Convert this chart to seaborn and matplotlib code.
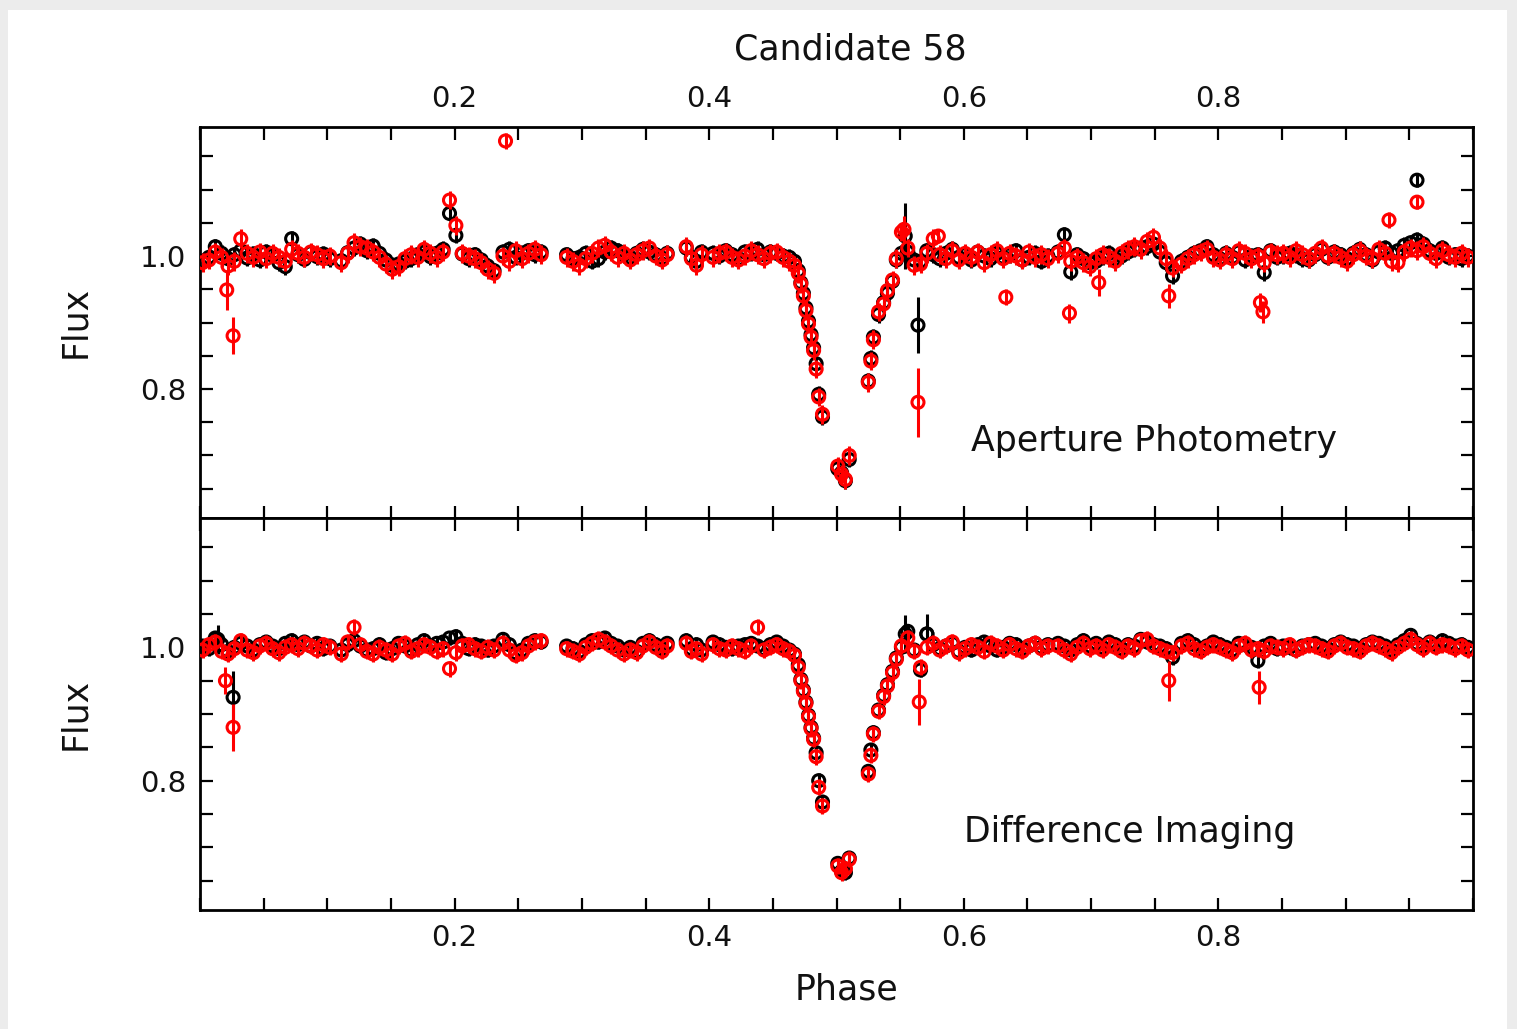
import matplotlib
matplotlib.use('Agg')
import numpy as np
import matplotlib.pyplot as plt
from matplotlib.patches import Rectangle
from matplotlib.ticker import FixedLocator, MultipleLocator
import seaborn as sns

sns.set_theme(style="ticks")
plt.rcParams['font.family'] = ['DejaVu Sans']

# Phase of every observation (shared by both methods and both colours)
PHASE = [
    0.002, 0.007, 0.012, 0.017, 0.022, 0.027, 0.032, 0.037, 0.042, 0.047,
    0.052, 0.057, 0.062, 0.067, 0.072, 0.077, 0.082, 0.087, 0.092, 0.097, 0.102,
    0.111, 0.116, 0.121, 0.126, 0.131, 0.136, 0.141, 0.146, 0.151, 0.156,
    0.161, 0.166, 0.171, 0.176, 0.181, 0.186, 0.191, 0.196, 0.201, 0.206,
    0.211, 0.216, 0.221, 0.226, 0.231,
    0.238, 0.243, 0.248, 0.253, 0.258, 0.263, 0.268,
    0.288, 0.293, 0.298, 0.303, 0.308, 0.313, 0.318, 0.323, 0.328, 0.333,
    0.338, 0.343, 0.348, 0.353, 0.358, 0.363, 0.367,
    0.382, 0.386, 0.390, 0.394, 0.403, 0.408, 0.413, 0.418, 0.423, 0.428,
    0.433, 0.438, 0.443, 0.448, 0.453, 0.458, 0.463, 0.467,
    0.470, 0.472, 0.474, 0.476, 0.478, 0.480, 0.482, 0.484, 0.486, 0.489,
    0.501, 0.504, 0.507, 0.510,
    0.525, 0.527, 0.529, 0.533, 0.537, 0.540, 0.544, 0.547,
    0.551, 0.556, 0.561, 0.566, 0.571, 0.576, 0.581, 0.586, 0.591, 0.596,
    0.601, 0.606, 0.611, 0.616, 0.621, 0.626, 0.631, 0.636, 0.641, 0.646,
    0.651, 0.656, 0.661, 0.666,
    0.674, 0.679, 0.684, 0.689, 0.694, 0.699, 0.704, 0.709, 0.714, 0.719,
    0.724, 0.729, 0.734, 0.739, 0.744, 0.749, 0.754, 0.759, 0.764,
    0.771, 0.776, 0.781, 0.786, 0.791, 0.796, 0.801, 0.806, 0.811, 0.816,
    0.821, 0.826, 0.831, 0.836, 0.841, 0.846, 0.851, 0.856, 0.861, 0.866,
    0.871, 0.876, 0.881, 0.886, 0.891, 0.896, 0.901, 0.906, 0.911, 0.916,
    0.921, 0.926, 0.931, 0.936, 0.941, 0.946, 0.951, 0.956, 0.961, 0.966,
    0.971, 0.976, 0.981, 0.986, 0.991, 0.996,
]

# Aperture photometry
AP_BLACK = [
    0.992, 0.998, 1.014, 1.004, 0.996, 1.002, 1.008, 0.997, 1.003, 0.994,
    1.006, 1.001, 0.990, 0.984, 1.026, 1.002, 0.995, 1.005, 0.999, 1.003, 0.996,
    0.993, 1.005, 1.012, 1.018, 1.008, 1.015, 1.004, 0.994, 0.986, 0.988,
    0.992, 0.996, 1.002, 1.006, 0.999, 1.004, 1.010, 1.064, 1.031, 1.003,
    0.996, 1.002, 0.994, 0.985, 0.978,
    1.006, 1.010, 0.998, 1.004, 1.008, 1.002, 1.006,
    1.002, 0.996, 0.998, 1.004, 0.992, 0.996, 1.006, 1.012, 1.008, 1.002,
    0.998, 1.004, 1.010, 1.006, 1.002, 0.997, 1.004,
    1.012, 0.998, 0.992, 1.006, 1.004, 1.000, 1.008, 1.002, 0.996, 1.006,
    1.004, 1.010, 1.002, 1.006, 1.004, 1.000, 0.998, 0.992,
    0.978, 0.960, 0.944, 0.922, 0.902, 0.882, 0.862, 0.838, 0.792, 0.758,
    0.680, 0.674, 0.662, 0.694,
    0.812, 0.846, 0.878, 0.912, 0.930, 0.944, 0.962, 0.994,
    1.004, 1.006, 0.994, 0.992, 1.008, 1.002, 0.996, 1.004, 1.010, 0.998,
    1.002, 0.994, 1.006, 1.000, 0.996, 1.004, 0.998, 1.002, 1.008, 0.994,
    0.998, 1.004, 0.992, 1.000,
    1.006, 1.032, 0.976, 1.002, 0.996, 0.990, 0.992, 0.998, 1.004, 0.996,
    1.000, 1.006, 1.010, 1.012, 1.014, 1.018, 1.006, 0.990, 0.970,
    0.992, 0.998, 1.004, 1.008, 1.014, 1.002, 0.996, 1.004, 0.998, 1.006,
    0.994, 1.000, 1.002, 0.975, 1.008, 0.998, 1.000, 1.004, 1.002, 0.996,
    0.994, 1.002, 1.010, 0.998, 1.006, 1.002, 0.996, 1.004, 1.010, 1.002,
    0.994, 1.006, 1.012, 1.004, 1.008, 1.016, 1.020, 1.024, 1.018, 1.008,
    1.004, 1.012, 0.998, 1.002, 0.996, 1.000,
]
AP_RED = [
    0.990, 0.994, 1.006, 0.998, 0.985, 0.992, 1.026, 1.004, 0.998, 1.006,
    0.996, 1.004, 0.998, 0.992, 1.010, 1.004, 0.998, 1.006, 1.002, 0.996, 1.000,
    0.990, 1.004, 1.020, 1.014, 1.012, 1.006, 0.998, 0.988, 0.980, 0.984,
    0.996, 1.002, 0.998, 1.010, 1.004, 0.998, 1.006, 1.084, 1.046, 1.004,
    1.000, 0.996, 0.990, 0.980, 0.974,
    1.000, 0.992, 1.008, 0.996, 1.004, 1.010, 1.002,
    0.998, 0.992, 0.986, 0.996, 1.004, 1.012, 1.016, 1.006, 0.998, 1.004,
    0.994, 1.002, 1.008, 1.012, 1.000, 0.994, 1.002,
    1.014, 0.996, 0.986, 1.002, 0.998, 1.004, 1.006, 0.998, 0.994, 1.000,
    1.008, 1.002, 0.996, 1.004, 1.006, 0.998, 0.992, 0.986,
    0.974, 0.958, 0.940, 0.918, 0.898, 0.878, 0.858, 0.830, 0.788, 0.762,
    0.684, 0.672, 0.664, 0.700,
    0.810, 0.842, 0.874, 0.916, 0.928, 0.948, 0.964, 0.996,
    1.036, 1.012, 0.986, 0.988, 1.004, 1.026, 1.002, 0.996, 1.008, 0.994,
    1.004, 0.998, 1.006, 0.990, 1.002, 1.008, 0.996, 1.004, 1.000, 0.994,
    1.006, 0.998, 1.002, 0.996,
    1.004, 1.012, 0.992, 0.998, 0.990, 0.984, 0.996, 1.002, 0.998, 0.992,
    1.004, 1.010, 1.014, 1.010, 1.022, 1.028, 1.012, 0.996, 0.982,
    0.988, 0.996, 1.002, 1.006, 1.010, 0.998, 0.994, 1.002, 0.996, 1.008,
    1.004, 0.996, 1.000, 0.990, 1.006, 1.002, 1.004, 0.998, 1.008, 1.002,
    0.996, 1.004, 1.012, 1.000, 1.004, 0.998, 0.992, 1.002, 1.008, 1.000,
    0.996, 1.010, 1.004, 0.992, 0.990, 1.006, 1.012, 1.008, 1.014, 1.004,
    0.996, 1.008, 1.002, 0.998, 1.004, 0.998,
]

# Difference imaging
DI_BLACK = [
    1.002, 0.998, 1.014, 1.004, 0.994, 1.000, 1.006, 1.002, 0.996, 1.004,
    1.008, 1.002, 0.998, 1.006, 1.010, 1.004, 1.008, 1.002, 1.006, 0.998, 1.002,
    0.996, 1.004, 1.010, 1.002, 0.996, 0.998, 1.004, 0.992, 0.998, 1.006,
    1.002, 0.996, 1.004, 1.010, 1.002, 1.006, 1.008, 1.014, 1.016, 1.006,
    0.998, 1.004, 1.002, 0.996, 1.002,
    1.012, 1.004, 0.992, 0.996, 1.006, 1.010, 1.008,
    1.002, 0.998, 0.994, 1.004, 1.010, 1.008, 1.014, 1.006, 1.002, 0.996,
    1.000, 0.994, 1.006, 1.010, 1.004, 0.998, 1.006,
    1.010, 0.998, 1.004, 0.996, 1.008, 1.004, 1.000, 0.998, 1.002, 1.004,
    1.006, 1.002, 0.998, 1.004, 1.008, 1.002, 0.996, 0.990,
    0.974, 0.952, 0.936, 0.918, 0.898, 0.880, 0.864, 0.842, 0.800, 0.768,
    0.676, 0.664, 0.662, 0.684,
    0.814, 0.846, 0.872, 0.906, 0.928, 0.944, 0.964, 0.984,
    1.000, 1.024, 0.996, 0.966, 1.020, 1.004, 0.998, 1.002, 1.006, 0.994,
    1.000, 0.996, 1.004, 1.008, 1.002, 0.996, 1.000, 1.006, 1.004, 0.998,
    1.002, 1.006, 1.000, 1.004,
    1.006, 1.002, 0.996, 1.004, 1.010, 1.002, 1.006, 1.000, 1.008, 1.004,
    0.998, 1.004, 1.002, 1.012, 1.008, 1.004, 1.002, 0.998, 0.985,
    1.006, 1.010, 1.004, 0.998, 1.002, 1.008, 1.004, 1.000, 0.996, 1.006,
    1.004, 1.000, 0.980, 1.002, 1.006, 0.998, 1.002, 1.000, 0.996, 1.002,
    1.004, 1.006, 1.002, 0.998, 1.004, 1.008, 1.004, 1.002, 0.998, 1.004,
    1.008, 1.006, 1.002, 0.996, 1.004, 1.010, 1.018, 1.006, 1.002, 1.008,
    1.004, 1.010, 1.006, 1.002, 1.004, 1.000,
]
DI_RED = [
    0.996, 1.004, 1.008, 0.994, 0.990, 0.998, 1.010, 0.996, 0.992, 1.002,
    1.006, 0.998, 0.992, 1.000, 1.004, 0.998, 1.006, 1.002, 0.996, 1.004, 1.000,
    0.990, 1.008, 1.030, 1.004, 0.994, 0.990, 1.000, 0.996, 0.990, 1.002,
    1.006, 0.994, 0.998, 1.004, 1.000, 0.994, 0.998, 0.968, 0.992, 1.002,
    1.004, 0.998, 0.994, 1.000, 0.996,
    1.006, 0.996, 0.988, 0.992, 1.002, 1.008, 1.010,
    0.998, 0.994, 0.990, 1.000, 1.006, 1.012, 1.008, 1.002, 0.996, 0.990,
    0.996, 0.992, 1.002, 1.008, 1.000, 0.994, 1.002,
    1.006, 0.994, 0.998, 0.990, 1.004, 0.998, 0.996, 1.002, 0.998, 0.994,
    1.002, 1.030, 0.996, 1.000, 1.004, 0.998, 0.994, 0.988,
    0.970, 0.950, 0.934, 0.916, 0.896, 0.878, 0.862, 0.836, 0.790, 0.762,
    0.672, 0.662, 0.668, 0.682,
    0.810, 0.838, 0.870, 0.904, 0.926, 0.942, 0.962, 0.982,
    1.002, 1.014, 0.994, 0.970, 1.000, 1.006, 0.996, 1.002, 1.008, 0.992,
    0.998, 1.004, 1.000, 0.994, 1.006, 1.002, 0.996, 1.004, 0.998, 0.994,
    1.002, 1.006, 0.998, 1.002,
    1.002, 0.996, 0.990, 1.000, 1.006, 0.998, 1.002, 0.996, 1.004, 1.000,
    0.994, 1.002, 0.998, 1.010, 1.012, 1.002, 0.998, 0.994, 0.992,
    1.002, 1.006, 0.998, 0.994, 1.000, 1.004, 1.000, 0.996, 0.992, 1.002,
    1.006, 0.996, 0.998, 0.994, 1.002, 1.000, 0.998, 1.004, 0.996, 1.000,
    1.004, 1.002, 0.998, 0.994, 1.002, 1.006, 1.000, 0.998, 0.994, 1.002,
    1.006, 1.002, 0.998, 0.992, 1.000, 1.006, 1.012, 1.004, 0.998, 1.006,
    1.000, 1.004, 1.002, 0.998, 1.002, 0.996,
]

# typical error bar of the regular points
AP_BLACK_ERR = 0.012
AP_RED_ERR = 0.014
DI_BLACK_ERR = 0.011
DI_RED_ERR = 0.012

# discrepant points with their own error bars: phase, flux, error
AP_BLACK_OUT_PHASE = [0.554, 0.564, 0.956]
AP_BLACK_OUT_FLUX = [1.030, 0.896, 1.114]
AP_BLACK_OUT_ERR = [0.050, 0.042, 0.010]

AP_RED_OUT_PHASE = [0.021, 0.026, 0.240, 0.553, 0.564, 0.580, 0.633, 0.683,
                    0.706, 0.761, 0.833, 0.835, 0.934, 0.956]
AP_RED_OUT_FLUX = [0.949, 0.880, 1.173, 1.040, 0.780, 1.030, 0.938, 0.914,
                   0.960, 0.940, 0.930, 0.916, 1.054, 1.081]
AP_RED_OUT_ERR = [0.030, 0.028, 0.012, 0.020, 0.052, 0.010, 0.012, 0.014,
                  0.020, 0.018, 0.014, 0.016, 0.012, 0.010]

DI_BLACK_OUT_PHASE = [0.014, 0.026, 0.554, 0.571]
DI_BLACK_OUT_FLUX = [1.012, 0.925, 1.020, 1.020]
DI_BLACK_OUT_ERR = [0.022, 0.040, 0.028, 0.030]

DI_RED_OUT_PHASE = [0.020, 0.026, 0.565, 0.761, 0.832]
DI_RED_OUT_FLUX = [0.950, 0.880, 0.918, 0.950, 0.940]
DI_RED_OUT_ERR = [0.020, 0.035, 0.035, 0.030, 0.025]

W, H = 1517, 1029


def draw_series(ax, flux, err, out_phase, out_flux, out_err, color, z):
    x = np.concatenate([PHASE, out_phase])
    y = np.concatenate([flux, out_flux])
    e = np.concatenate([np.full(len(PHASE), err), out_err])
    ax.errorbar(x, y, yerr=e, fmt='none', ecolor=color, elinewidth=2.2,
                capsize=0, zorder=z)
    sns.scatterplot(x=x, y=y, ax=ax, color=color, facecolor='none',
                    edgecolor=color, s=75, linewidth=2.2, zorder=z + 1)


def style_axis(ax, top_labels):
    ax.set_xlim(0, 1)
    ax.set_ylim(0.606, 1.194)
    ax.xaxis.set_major_locator(FixedLocator([0.2, 0.4, 0.6, 0.8]))
    ax.xaxis.set_minor_locator(MultipleLocator(0.05))
    ax.yaxis.set_major_locator(FixedLocator([0.8, 1.0]))
    ax.yaxis.set_minor_locator(MultipleLocator(0.05))
    ax.xaxis.set_major_formatter(lambda v, p: f"{v:.1f}")
    ax.yaxis.set_major_formatter(lambda v, p: f"{v:.1f}")
    ax.tick_params(which='both', direction='in', top=True, right=True,
                   length=9, width=1.6, color='black', labelsize=21, pad=10,
                   labelcolor='#111111')
    ax.tick_params(labeltop=top_labels, labelbottom=not top_labels)
    for sp in ax.spines.values():
        sp.set_color('black')
        sp.set_linewidth(2)
    ax.set_xlabel('')
    ax.set_ylabel('')


fig = plt.figure(figsize=(W / 100, H / 100), dpi=100)
fig.patch.set_facecolor('#ececec')
fig.add_artist(Rectangle((8 / W, 0), (1507 - 8) / W, 1 - 10 / H,
                         transform=fig.transFigure, facecolor='white',
                         edgecolor='none', zorder=-1))

ax_top = fig.add_axes([200 / W, 1 - 518 / H, 1273 / W, 391 / H])
ax_bot = fig.add_axes([200 / W, 1 - 910 / H, 1273 / W, 392 / H])

draw_series(ax_top, AP_BLACK, AP_BLACK_ERR, AP_BLACK_OUT_PHASE,
            AP_BLACK_OUT_FLUX, AP_BLACK_OUT_ERR, 'black', 2)
draw_series(ax_top, AP_RED, AP_RED_ERR, AP_RED_OUT_PHASE,
            AP_RED_OUT_FLUX, AP_RED_OUT_ERR, '#ff0000', 4)
draw_series(ax_bot, DI_BLACK, DI_BLACK_ERR, DI_BLACK_OUT_PHASE,
            DI_BLACK_OUT_FLUX, DI_BLACK_OUT_ERR, 'black', 2)
draw_series(ax_bot, DI_RED, DI_RED_ERR, DI_RED_OUT_PHASE,
            DI_RED_OUT_FLUX, DI_RED_OUT_ERR, '#ff0000', 4)

style_axis(ax_top, True)
style_axis(ax_bot, False)

ax_top.text(0.606, 0.722, 'Aperture Photometry', fontsize=25,
            ha='left', va='center', color='#111111')
ax_bot.text(0.600, 0.723, 'Difference Imaging', fontsize=25,
            ha='left', va='center', color='#111111')

fig.text(850 / W, 1 - 50 / H, 'Candidate 58', fontsize=25,
         ha='center', va='center', color='#111111')
fig.text(846 / W, 1 - 990 / H, 'Phase', fontsize=25,
         ha='center', va='center', color='#111111')
fig.text(75 / W, 1 - 322 / H, 'Flux', fontsize=25, rotation=90,
         ha='center', va='center', color='#111111')
fig.text(75 / W, 1 - 714 / H, 'Flux', fontsize=25, rotation=90,
         ha='center', va='center', color='#111111')

fig.savefig('out.png', dpi=100, facecolor=fig.get_facecolor())
plt.close(fig)
